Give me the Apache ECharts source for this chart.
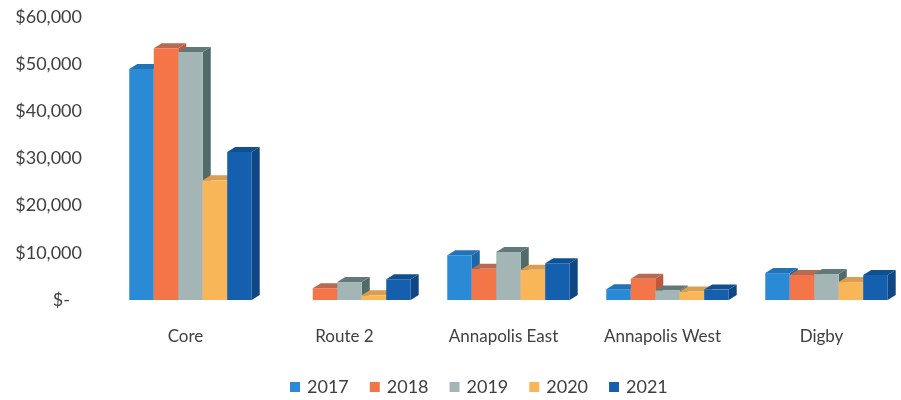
<!DOCTYPE html>
<html>
<head>
<meta charset="utf-8">
<script src="https://cdn.jsdelivr.net/npm/echarts@6/dist/echarts.min.js"></script>
<style>
html,body{margin:0;padding:0;background:#fff;}
#chart{width:901px;height:400px;}
</style>
</head>
<body>
<div id="chart"></div>
<script>
var categories = ['Core', 'Route 2', 'Annapolis East', 'Annapolis West', 'Digby'];
var years = ['2017', '2018', '2019', '2020', '2021'];
var v2017 = [49000, 0, 9500, 2300, 5700];
var v2018 = [53400, 2500, 6600, 4500, 5300];
var v2019 = [52600, 3800, 10200, 2000, 5500];
var v2020 = [25400, 1000, 6400, 1800, 3800];
var v2021 = [31400, 4400, 7800, 2200, 5300];
var yTicks = [0, 10000, 20000, 30000, 40000, 50000, 60000];

var seriesValues = [v2017, v2018, v2019, v2020, v2021];
var palette = [
  {front: '#2b8ad6', side: '#1c67a6', top: '#2272b6'},
  {front: '#f37548', side: '#c0593a', top: '#b66a52'},
  {front: '#a3b5b4', side: '#506a69', top: '#61797a'},
  {front: '#f9b658', side: '#d2923f', top: '#d89e52'},
  {front: '#1560ae', side: '#0e4784', top: '#11508f'}
];
var DX = 8, DY = 5, BAR_FRAC = 0.154, SHIFT = 5;

function makeRender(si) {
  return function (params, api) {
    var cat = api.value(0), val = api.value(1);
    if (!val) return null;
    var top = api.coord([cat, val]);
    var base = api.coord([cat, 0]);
    var bw = api.size([1, 0])[0] * BAR_FRAC;
    var n = years.length;
    var x = top[0] + SHIFT - bw * n / 2 + si * bw;
    var yt = top[1], yb = base[1];
    var c = palette[si];
    return {
      type: 'group',
      children: [
        {type: 'polygon', shape: {points: [[x + bw, yt], [x + bw + DX, yt - DY], [x + bw + DX, yb - DY], [x + bw, yb]]}, style: {fill: c.side}},
        {type: 'polygon', shape: {points: [[x, yt], [x + DX, yt - DY], [x + bw + DX, yt - DY], [x + bw, yt]]}, style: {fill: c.top}},
        {type: 'rect', shape: {x: x, y: yt, width: bw, height: yb - yt}, style: {fill: c.front}}
      ]
    };
  };
}

var series = years.map(function (y, si) {
  return {
    name: y,
    type: 'custom',
    renderItem: makeRender(si),
    itemStyle: {color: palette[si].front},
    encode: {x: 0, y: 1},
    data: seriesValues[si].map(function (v, i) { return [i, v]; }),
    clip: false,
    z: 2
  };
});

var chart = echarts.init(document.getElementById('chart'));
chart.setOption({
  animation: false,
  backgroundColor: '#fff',
  textStyle: {fontFamily: 'Lato'},
  grid: {left: 106, top: 17, width: 805, height: 283, containLabel: false},
  legend: {
    data: years,
    top: 373,
    left: 285,
    icon: 'rect',
    itemWidth: 10,
    itemHeight: 10,
    itemGap: 21,
    textStyle: {fontFamily: 'Lato', fontSize: 18, color: '#404040', padding: [0, 0, 0, 2]}
  },
  xAxis: {
    type: 'category',
    data: categories,
    axisLine: {show: false},
    axisTick: {show: false},
    axisLabel: {fontFamily: 'Lato', fontSize: 17, color: '#404040', margin: 28}
  },
  yAxis: {
    type: 'value',
    min: yTicks[0],
    max: yTicks[yTicks.length - 1],
    interval: yTicks[1] - yTicks[0],
    axisLine: {show: false},
    axisTick: {show: false},
    splitLine: {show: false},
    axisLabel: {
      fontFamily: 'Lato', fontSize: 18, color: '#404040', margin: 24,
      formatter: function (v) {
        return v === 0 ? '{z|$-}' : '$' + v.toLocaleString('en-US');
      },
      rich: {z: {fontFamily: 'Lato', fontSize: 18, color: '#404040', padding: [0, 12, 0, 0]}}
    }
  },
  series: series
});
</script>
</body>
</html>
